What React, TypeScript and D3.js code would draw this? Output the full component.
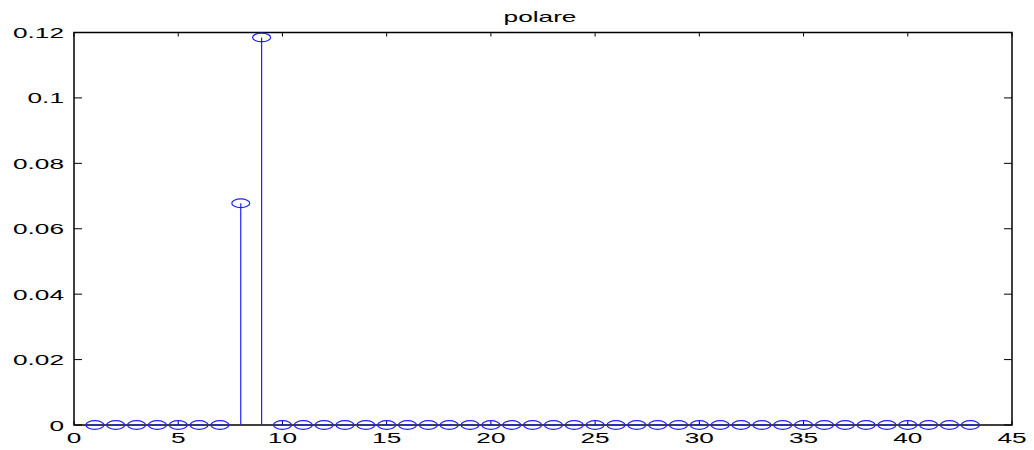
import React from 'react';
import * as d3 from 'd3';

// stem data: index 1..43, only 8 and 9 non-zero
const indices = d3.range(1, 44);
const values = indices.map((i) => (i === 8 ? 0.0678 : i === 9 ? 0.1185 : 0));
const xTicks = [0, 5, 10, 15, 20, 25, 30, 35, 40, 45];
const yTicks = [0, 0.02, 0.04, 0.06, 0.08, 0.1, 0.12];
const yTickLabels = ['0', '0.02', '0.04', '0.06', '0.08', '0.1', '0.12'];
const title = 'polare';

const W = 1034;
const H = 450;
const left = 74;
const right = 1012;
const top = 32.5;
const bottom = 425;
const blue = '#2020ff';
const sx = 1.75; // text is stretched horizontally in the reference

const App = () => {
  const x = d3.scaleLinear().domain([0, 45]).range([left, right]);
  const y = d3.scaleLinear().domain([0, 0.12]).range([bottom, top]);
  const font = { fontFamily: 'Liberation Sans, Arial, sans-serif', fontSize: 15 };

  return (
    <svg width={W} height={H} style={{ position: 'absolute', left: 0, top: 0, background: '#fff' }}>
      {/* ticks, inward on all four sides */}
      <g stroke="#000" strokeWidth={1}>
        {xTicks.map((t) => (
          <g key={'xt' + t}>
            <line x1={x(t)} x2={x(t)} y1={bottom} y2={bottom - 4} />
            <line x1={x(t)} x2={x(t)} y1={top} y2={top + 4} />
          </g>
        ))}
        {yTicks.map((t) => (
          <g key={'yt' + t}>
            <line x1={left} x2={left + 8} y1={y(t)} y2={y(t)} />
            <line x1={right} x2={right - 8} y1={y(t)} y2={y(t)} />
          </g>
        ))}
      </g>
      {/* box */}
      <rect x={left} y={top} width={right - left} height={bottom - top} fill="none" stroke="#000" strokeWidth={1.5} />

      {/* stems */}
      <g stroke={blue} strokeWidth={1.2} fill="none">
        {indices.map((d, i) => (
          <g key={'s' + d}>
            {values[i] > 0 && <line x1={x(d)} x2={x(d)} y1={y(0)} y2={y(values[i])} />}
            {values[i] === 0 && <line x1={x(d) - 4} x2={x(d) + 4} y1={y(0)} y2={y(0)} />}
            <ellipse cx={x(d)} cy={y(values[i])} rx={9} ry={4.3} />
          </g>
        ))}
      </g>

      {/* tick labels */}
      <g {...font} fill="#000">
        {xTicks.map((t) => (
          <text key={'xl' + t} transform={`translate(${x(t)},442.5) scale(${sx},1)`} textAnchor="middle">
            {t}
          </text>
        ))}
        {yTicks.map((t, i) => (
          <text key={'yl' + t} transform={`translate(${left - 10},${y(t) + 5.5}) scale(${sx},1)`} textAnchor="end">
            {yTickLabels[i]}
          </text>
        ))}
        <text transform={`translate(${(left + right) / 2 - 3},21.5) scale(${sx},1)`} textAnchor="middle">
          {title}
        </text>
      </g>
    </svg>
  );
};

export default App;
